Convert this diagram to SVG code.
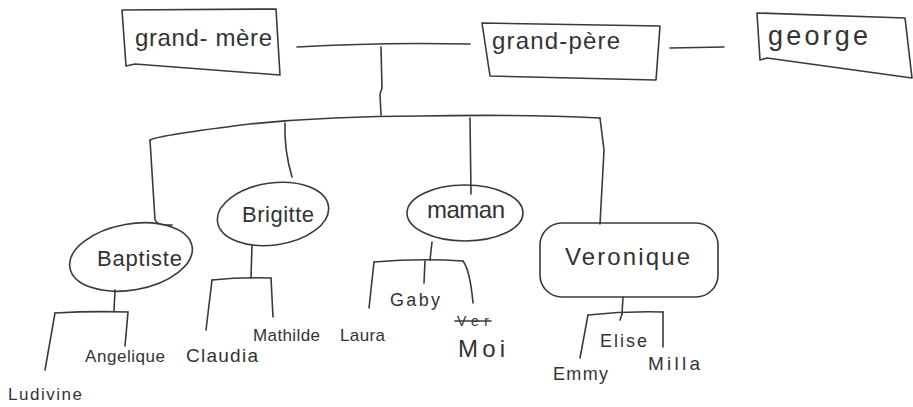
<svg xmlns="http://www.w3.org/2000/svg" width="913" height="407" viewBox="0 0 913 407">
<style>
.s{fill:none;stroke:#3a3a3a;stroke-width:1.6;stroke-linecap:round;stroke-linejoin:round}
.t{font-family:"Liberation Sans","DejaVu Sans",sans-serif;fill:#333}
</style>
<rect width="913" height="407" fill="#fff"/>
<g id="connectors" class="s">
<path d="M297 47 Q380 42 470 44"/>
<path d="M381 47 L382 88 L380 94 L381 115"/>
<path d="M670 48 L724 47"/>
<path d="M150 140 Q160 135 250 124 Q330 116 420 116 Q520 114 600 118"/>
<path d="M150 140 L155 220 Q158 226 172 225"/>
<path d="M285 123 Q284 150 292 177"/>
<path d="M470 118 L471 194"/>
<path d="M600 118 L604 150 L600 224"/>
<path d="M115 290 L114 311"/>
<path d="M55 313 Q90 311 128 312"/>
<path d="M55 313 L45 370"/>
<path d="M128 312 L125 346"/>
<path d="M252 245 L251 278"/>
<path d="M212 280 Q240 277 271 278"/>
<path d="M212 280 L206 330"/>
<path d="M271 278 L273 317"/>
<path d="M432 242 L430 260"/>
<path d="M374 262 Q420 258 463 261"/>
<path d="M374 262 L369 308"/>
<path d="M425 261 L424 283"/>
<path d="M463 261 Q470 270 473 303"/>
<path d="M623 297 L622 314"/>
<path d="M588 315 Q625 311 663 312"/>
<path d="M588 315 L580 358"/>
<path d="M663 312 L663 347"/>
<path d="M622 314 L620 320"/>
</g>
<g id="grand-mere">
<path class="s" d="M122 10 L276 9 L280 75 L135 64 L126 66 Z"/>
<text class="t" x="135" y="46" font-size="24" textLength="137">grand- mère</text>
</g>
<g id="grand-pere">
<path class="s" d="M482 23 L660 26 L656 80 L490 76 Z"/>
<text class="t" x="492" y="49" font-size="24" textLength="128">grand-père</text>
</g>
<g id="george">
<path class="s" d="M757 13 L905 18 L912 78 L767 58 L760 60 Z"/>
<text class="t" x="768" y="45" font-size="27" textLength="100">george</text>
</g>
<g id="baptiste">
<ellipse class="s" cx="131" cy="257" rx="62" ry="33" transform="rotate(-10 131 257)"/>
<text class="t" x="97" y="266" font-size="22" textLength="85">Baptiste</text>
</g>
<g id="brigitte">
<ellipse class="s" cx="273" cy="214" rx="56" ry="31" transform="rotate(-8 273 214)"/>
<text class="t" x="242" y="222" font-size="22" textLength="72">Brigitte</text>
</g>
<g id="maman">
<ellipse class="s" cx="465" cy="213" rx="58" ry="28"/>
<text class="t" x="427" y="218" font-size="24" textLength="78">maman</text>
</g>
<g id="veronique">
<rect class="s" x="540" y="223" width="178" height="74" rx="22"/>
<text class="t" x="565" y="265" font-size="24" textLength="125">Veronique</text>
</g>
<g id="ludivine"><text class="t" x="8" y="400" font-size="17" textLength="74">Ludivine</text></g>
<g id="angelique"><text class="t" x="85" y="362" font-size="17" textLength="80">Angelique</text></g>
<g id="claudia"><text class="t" x="186" y="362" font-size="19" textLength="72">Claudia</text></g>
<g id="mathilde"><text class="t" x="253" y="341" font-size="17" textLength="67">Mathilde</text></g>
<g id="laura"><text class="t" x="340" y="341" font-size="17" textLength="45">Laura</text></g>
<g id="gaby"><text class="t" x="390" y="306" font-size="18" textLength="50">Gaby</text></g>
<g id="moi">
<text class="t" x="457" y="326" font-size="14" textLength="32">Ver</text>
<line class="s" x1="455" y1="321" x2="491" y2="321" stroke-width="1.2"/>
<text class="t" x="458" y="357" font-size="24" textLength="47">Moi</text>
</g>
<g id="elise"><text class="t" x="600" y="347" font-size="18" textLength="47">Elise</text></g>
<g id="emmy"><text class="t" x="553" y="380" font-size="18" textLength="55">Emmy</text></g>
<g id="milla"><text class="t" x="648" y="370" font-size="19" textLength="52">Milla</text></g>
</svg>
